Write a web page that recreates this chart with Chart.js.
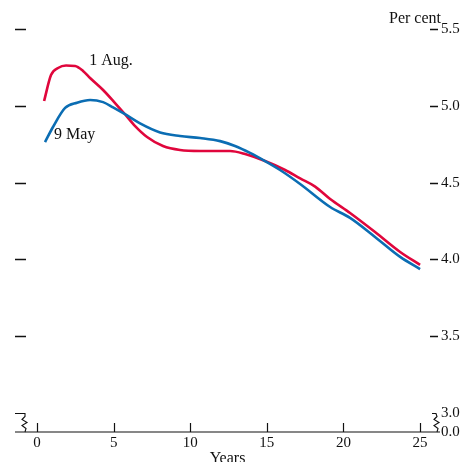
<!DOCTYPE html>
<html>
<head>
<meta charset="utf-8">
<script src="https://cdn.jsdelivr.net/npm/chart.js@4.4.1/dist/chart.umd.min.js"></script>
<style>
  html, body { margin: 0; padding: 0; background: #fff; }
  #wrap { width: 471px; height: 462px; }
</style>
</head>
<body>
<div id="wrap"><canvas id="yieldChart" width="471" height="462"></canvas></div>
<script>
// 9 May curve
const mayYears = [0.52, 1.04, 1.83, 2.61, 3.46, 4.31, 4.96, 5.74, 6.72, 8.03, 9.33, 10.64, 11.95, 12.92, 13.9, 14.88, 15.86, 17.17, 19.13, 20.43, 22.06, 23.7, 25.0];
const mayValues = [4.764, 4.862, 4.986, 5.02, 5.038, 5.024, 4.99, 4.945, 4.885, 4.826, 4.803, 4.79, 4.77, 4.738, 4.693, 4.64, 4.582, 4.491, 4.341, 4.27, 4.146, 4.016, 3.937];

// 1 Aug curve
const augYears = [0.46, 0.91, 1.37, 1.89, 2.48, 3.0, 3.46, 4.31, 5.09, 5.74, 6.4, 7.18, 8.22, 9.33, 10.64, 12.6, 13.58, 14.88, 16.19, 17.17, 18.15, 19.13, 20.43, 22.06, 23.7, 25.0];
const augValues = [5.031, 5.2, 5.246, 5.262, 5.259, 5.227, 5.181, 5.103, 5.018, 4.945, 4.868, 4.797, 4.738, 4.712, 4.706, 4.706, 4.686, 4.64, 4.582, 4.527, 4.474, 4.393, 4.302, 4.178, 4.048, 3.964];

const xTicks = [0, 5, 10, 15, 20, 25];
const yTicks = [3.0, 3.5, 4.0, 4.5, 5.0, 5.5];
const Y_BREAK_MIN = 2.876; // bottom of the broken axis, labelled 0.0

const FONT = '"Liberation Serif", "DejaVu Serif", serif';
const RED = '#e0063c';
const BLUE = '#0b6db3';

const toPoints = (xs, ys) => xs.map((x, i) => ({ x: x, y: ys[i] }));

// axis line, inward tick marks, axis breaks and text labels
const decor = {
  id: 'decor',
  afterDraw(chart) {
    const ctx = chart.ctx;
    const xs = chart.scales.x;
    const ys = chart.scales.y;
    const area = chart.chartArea;
    const base = ys.getPixelForValue(Y_BREAK_MIN);
    ctx.save();
    ctx.strokeStyle = '#111';
    ctx.lineWidth = 1.2;

    // x axis line
    ctx.beginPath();
    ctx.moveTo(area.left, base);
    ctx.lineTo(area.right, base);
    ctx.stroke();

    // x ticks pointing up
    xTicks.forEach(v => {
      const px = Math.round(xs.getPixelForValue(v)) + 0.5;
      ctx.beginPath();
      ctx.moveTo(px, base);
      ctx.lineTo(px, base - 9);
      ctx.stroke();
    });

    // y ticks on both sides (3.0 is drawn as part of the break)
    ctx.lineWidth = 1.5;
    yTicks.filter(v => v > 3).forEach(v => {
      const py = Math.round(ys.getPixelForValue(v)) + 0.5;
      ctx.beginPath();
      ctx.moveTo(area.left, py);
      ctx.lineTo(area.left + 11, py);
      ctx.moveTo(area.right - 10, py);
      ctx.lineTo(area.right - 2, py);
      ctx.stroke();
    });

    // axis breaks
    const top = Math.round(ys.getPixelForValue(3.0)) + 0.5;
    const brk = (x0, x1, zx) => {
      ctx.beginPath();
      ctx.moveTo(x0, top);
      ctx.lineTo(x1, top);
      ctx.lineTo(zx, top + 3);
      ctx.lineTo(zx - 3, top + 6);
      ctx.lineTo(zx + 2, top + 9);
      ctx.lineTo(zx - 3, top + 12);
      ctx.lineTo(zx + 1, top + 15);
      ctx.lineTo(zx, base);
      ctx.stroke();
    };
    ctx.lineWidth = 1.1;
    brk(area.left, area.left + 10, area.left + 10);
    brk(area.right - 8, area.right - 4, area.right - 3);

    // text
    ctx.fillStyle = '#111';
    ctx.font = '16px ' + FONT;
    ctx.textBaseline = 'middle';
    ctx.textAlign = 'right';
    ctx.fillText('Per cent', area.right + 1, 19);
    ctx.textAlign = 'left';
    ctx.fillText('1 Aug.', xs.getPixelForValue(3.4), ys.getPixelForValue(5.29));
    ctx.fillText('9 May', xs.getPixelForValue(1.1), ys.getPixelForValue(4.81));
    ctx.restore();
  }
};

new Chart(document.getElementById('yieldChart'), {
  type: 'line',
  data: {
    datasets: [
      {
        label: '9 May',
        data: toPoints(mayYears, mayValues),
        borderColor: BLUE,
        borderWidth: 2.6,
        pointRadius: 0,
        fill: false,
        cubicInterpolationMode: 'monotone'
      },
      {
        label: '1 Aug.',
        data: toPoints(augYears, augValues),
        borderColor: RED,
        borderWidth: 2.6,
        pointRadius: 0,
        fill: false,
        cubicInterpolationMode: 'monotone'
      }
    ]
  },
  options: {
    responsive: false,
    animation: false,
    layout: { padding: { left: 15, top: 29, right: 0, bottom: 0 } },
    plugins: {
      legend: { display: false },
      tooltip: { enabled: false }
    },
    scales: {
      x: {
        type: 'linear',
        min: -1.44,
        max: 26.3,
        afterBuildTicks: s => { s.ticks = xTicks.map(v => ({ value: v })); },
        afterFit: s => { s.height = 30; },
        grid: { display: false, drawTicks: false },
        border: { display: false },
        ticks: { color: '#111', font: { family: FONT, size: 15 }, padding: 2, maxRotation: 0 },
        title: {
          display: true,
          text: 'Years',
          color: '#111',
          font: { family: FONT, size: 16 },
          padding: { top: 0, bottom: -6 }
        }
      },
      y: {
        type: 'linear',
        position: 'right',
        min: Y_BREAK_MIN,
        max: 5.5,
        afterBuildTicks: s => { s.ticks = [Y_BREAK_MIN].concat(yTicks).map(v => ({ value: v })); },
        afterFit: s => { s.width = 31; },
        grid: { display: false, drawTicks: false },
        border: { display: false },
        ticks: {
          color: '#111',
          font: { family: FONT, size: 15 },
          padding: 1,
          callback: v => v === Y_BREAK_MIN ? '0.0' : v.toFixed(1)
        }
      }
    }
  },
  plugins: [decor]
});
</script>
</body>
</html>
